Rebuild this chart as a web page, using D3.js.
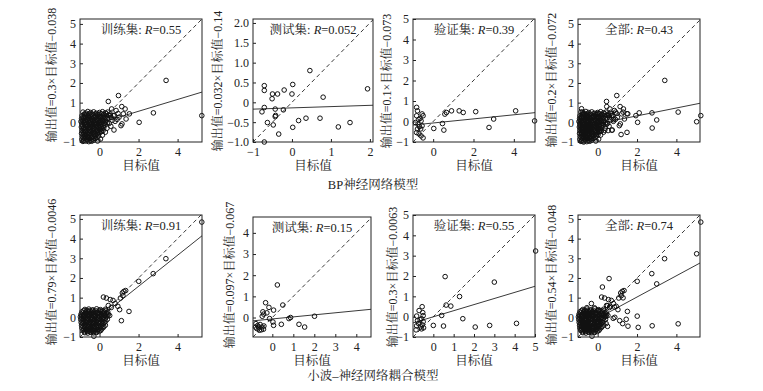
<!DOCTYPE html>
<html><head><meta charset="utf-8">
<script src="https://cdn.jsdelivr.net/npm/d3@7"></script>
<style>
html,body{margin:0;padding:0;background:#fff;}
svg text{font-family:"Liberation Serif","Noto Serif CJK SC","Noto Sans CJK SC",serif;fill:#222;}
</style></head>
<body><svg id="c" width="763" height="391"></svg>
<script>
// ---------------- data ----------------
const subsetNames = ["训练集", "测试集", "验证集", "全部"];
const modelNames = ["BP神经网络模型", "小波–神经网络耦合模型"];

const bpSlope = [0.3, 0.032, 0.1, 0.2];
const bpIntercept = [-0.038, -0.14, -0.073, -0.072];
const bpR = ["0.55", "0.052", "0.39", "0.43"];
const wtSlope = [0.79, 0.097, 0.3, 0.54];
const wtIntercept = [-0.0046, -0.067, -0.0063, -0.048];
const wtR = ["0.91", "0.15", "0.55", "0.74"];

const xTicksA = [0, 2, 4];
const yTicksA = [-1, 0, 1, 2, 3, 4, 5];
const xTicksBpTest = [-1, 0, 1, 2];
const yTicksBpTest = [-1, -0.5, 0, 0.5, 1, 1.5, 2];
const xTicksWtTest = [0, 1, 2, 3, 4];
const yTicksWtTest = [0, 1, 2, 3, 4];
const xTicksWtVal = [0, 1, 2, 3, 4, 5];

// [目标值, 输出值]
const bpTrain = [
 [-0.85,0.52],[-0.7,0.47],[-0.6,0.55],[-0.45,0.5],[-0.3,0.53],[-0.15,0.46],[0.0,0.5],[0.15,0.54],[0.3,0.48],[0.42,0.52],
 [-0.9,0.33],[-0.78,0.38],[-0.62,0.31],[-0.5,0.36],[-0.38,0.4],[-0.22,0.32],[-0.08,0.37],[0.05,0.3],[0.2,0.38],[0.35,0.33],[0.48,0.36],
 [-0.92,0.18],[-0.8,0.23],[-0.66,0.16],[-0.55,0.22],[-0.42,0.19],[-0.3,0.24],[-0.18,0.15],[-0.05,0.21],[0.1,0.17],[0.25,0.23],[0.4,0.18],
 [-0.95,0.04],[-0.83,0.08],[-0.7,0.02],[-0.58,0.07],[-0.46,0.03],[-0.33,0.09],[-0.2,0.01],[-0.1,0.06],[0.05,0.04],[0.18,0.08],[0.32,0.02],
 [-0.9,-0.12],[-0.77,-0.07],[-0.65,-0.11],[-0.52,-0.08],[-0.4,-0.13],[-0.27,-0.09],[-0.14,-0.12],[0.0,-0.07],[0.12,-0.1],[0.28,-0.13],
 [-0.93,-0.24],[-0.8,-0.28],[-0.68,-0.22],[-0.56,-0.27],[-0.43,-0.23],[-0.3,-0.29],[-0.17,-0.24],[-0.03,-0.26],[0.1,-0.22],[0.22,-0.27],
 [-0.9,-0.41],[-0.78,-0.37],[-0.64,-0.43],[-0.5,-0.39],[-0.37,-0.42],[-0.22,-0.38],[-0.08,-0.41],[0.05,-0.37],[0.18,-0.42],
 [-0.92,-0.56],[-0.8,-0.52],[-0.66,-0.58],[-0.53,-0.54],[-0.4,-0.57],[-0.26,-0.53],[-0.12,-0.56],[0.02,-0.52],
 [-0.88,-0.71],[-0.75,-0.68],[-0.62,-0.73],[-0.48,-0.69],[-0.34,-0.72],[-0.2,-0.67],[-0.05,-0.7],
 [-0.9,-0.86],[-0.78,-0.83],[-0.64,-0.87],[-0.5,-0.84],[-0.36,-0.86],[-0.2,-0.82],
 [-0.85,-0.97],[-0.7,-0.95],[-0.55,-0.98],[-0.4,-0.96],
 [-0.78,0.42],[-0.65,0.4],[-0.52,0.44],[-0.38,0.41],[-0.22,0.43],[-0.08,0.4],[0.08,0.44],[0.22,0.41],[0.36,0.43],
 [-0.85,0.27],[-0.72,0.29],[-0.58,0.26],[-0.45,0.28],[-0.3,0.25],[-0.15,0.29],[0.0,0.26],[0.13,0.28],[0.28,0.25],[0.42,0.27],
 [-0.88,0.12],[-0.75,0.1],[-0.62,0.13],[-0.5,0.11],[-0.37,0.14],[-0.25,0.1],[-0.12,0.12],[0.02,0.11],[0.15,0.13],[0.3,0.1],
 [-0.9,-0.03],[-0.77,-0.01],[-0.64,-0.04],[-0.52,-0.02],[-0.4,-0.05],[-0.27,-0.02],[-0.15,-0.04],[0.0,-0.01],[0.12,-0.03],[0.25,-0.05],[0.4,-0.02],
 [-0.86,-0.18],[-0.72,-0.16],[-0.6,-0.19],[-0.47,-0.17],[-0.34,-0.2],[-0.2,-0.16],[-0.07,-0.19],[0.06,-0.17],[0.2,-0.18],
 [-0.86,-0.33],[-0.72,-0.31],[-0.58,-0.34],[-0.45,-0.32],[-0.3,-0.35],[-0.15,-0.31],[0.0,-0.33],[0.12,-0.32],
 [-0.85,-0.48],[-0.72,-0.46],[-0.58,-0.49],[-0.45,-0.47],[-0.32,-0.5],[-0.18,-0.46],[-0.04,-0.48],[0.1,-0.47],
 [-0.83,-0.63],[-0.7,-0.61],[-0.55,-0.64],[-0.42,-0.62],[-0.27,-0.65],[-0.12,-0.61],
 [-0.84,-0.78],[-0.7,-0.76],[-0.57,-0.79],[-0.43,-0.77],[-0.28,-0.8],[-0.12,-0.76],
 [-0.8,-0.92],[-0.63,-0.9],[-0.47,-0.93],[-0.3,-0.91],
 [0.55,0.42],[0.6,0.25],[0.65,0.1],[0.5,-0.05],[0.38,-0.3],[0.3,-0.5],[0.15,-0.65],[0.05,-0.85],[-0.1,-0.95],[0.7,0.35],[0.58,-0.2],
 [3.41,2.13],[5.24,0.34],[2.76,0.48],[2.03,0.0],[0.97,1.36],[0.45,1.06],[1.14,0.8],[1.31,0.68],[1.22,0.43],[1.53,0.43],
 [1.36,0.17],[1.15,-0.08],[1.1,-0.17],[0.74,-0.39],[0.76,0.34],[0.62,0.68],[0.85,0.6],[0.54,0.34],[1.0,0.26],[0.9,0.15],[0.8,0.05],[0.95,0.45]
];
const bpTest = [
 [-0.71,0.42],[-0.71,0.3],[-0.5,0.21],[-0.37,0.21],[-0.51,0.09],[-0.2,0.31],[0.02,0.45],[0.0,0.21],[0.46,0.8],[0.8,0.13],
 [1.94,0.34],[-0.71,-0.13],[-0.77,-0.24],[-0.43,-0.17],[-0.22,-0.19],[-0.43,-0.36],[-0.42,-0.33],[-0.63,-0.51],[-0.48,-0.57],
 [-0.34,-0.8],[-0.71,-1.0],[0.02,-0.63],[0.17,-0.46],[0.36,-0.4],[0.72,-0.4],[1.19,-0.62],[1.49,-0.51]
];
const bpVal = [
 [5.03,0.03],[4.09,0.52],[3.0,0.12],[2.77,-0.29],[2.11,0.48],[1.49,0.44],[1.29,0.52],[0.91,0.52],[0.66,0.44],[0.58,0.36],
 [0.46,-0.1],[0.53,-0.42],[0.03,-0.34],
 [-0.82,0.69],[-0.78,0.52],[-0.82,0.28],[-0.75,-0.13],[-0.78,-0.37],[-0.82,-0.54],[-0.55,0.37],[-0.5,0.28],[-0.6,0.03],
 [-0.55,-0.21],[-0.62,-0.36],[-0.5,-0.8],[-0.7,-0.6],[-0.65,0.15],[-0.88,-0.05],[-0.6,-0.7],[-0.72,0.1],[-0.68,-0.25]
];
const wtTrain = [
 [-0.75,0.4],[-0.55,0.42],[-0.35,0.38],[-0.15,0.43],[0.05,0.39],[0.3,0.41],
 [-0.9,0.28],[-0.72,0.25],[-0.58,0.3],[-0.42,0.26],[-0.28,0.29],[-0.1,0.24],[0.08,0.3],[0.25,0.27],[0.42,0.28],
 [-0.95,0.15],[-0.82,0.12],[-0.66,0.17],[-0.52,0.13],[-0.38,0.16],[-0.22,0.11],[-0.05,0.17],[0.1,0.14],[0.28,0.12],[0.45,0.16],
 [-0.98,0.02],[-0.85,0.05],[-0.7,-0.01],[-0.56,0.04],[-0.42,0.0],[-0.28,0.05],[-0.12,0.01],[0.02,0.03],[0.18,-0.01],[0.35,0.04],
 [-0.96,-0.12],[-0.82,-0.09],[-0.68,-0.14],[-0.54,-0.1],[-0.4,-0.13],[-0.25,-0.09],[-0.1,-0.14],[0.05,-0.11],[0.22,-0.13],[0.4,-0.1],
 [-0.94,-0.26],[-0.8,-0.23],[-0.66,-0.28],[-0.52,-0.24],[-0.38,-0.27],[-0.24,-0.23],[-0.08,-0.28],[0.08,-0.25],[0.25,-0.27],
 [-0.92,-0.4],[-0.78,-0.37],[-0.64,-0.42],[-0.5,-0.38],[-0.36,-0.41],[-0.2,-0.37],[-0.05,-0.42],[0.12,-0.39],[0.3,-0.4],
 [-0.9,-0.54],[-0.75,-0.51],[-0.6,-0.56],[-0.46,-0.52],[-0.3,-0.55],[-0.15,-0.51],[0.02,-0.55],[0.18,-0.53],
 [-0.85,-0.67],[-0.7,-0.64],[-0.55,-0.69],[-0.4,-0.65],[-0.25,-0.68],[-0.1,-0.64],[0.06,-0.67],
 [-0.75,-0.78],[-0.6,-0.8],[-0.45,-0.76],[-0.3,-0.79],[-0.15,-0.77],[-0.29,-0.96],
 [-0.82,0.34],[-0.65,0.35],[-0.5,0.33],[-0.35,0.35],[-0.2,0.33],[-0.02,0.35],[0.16,0.33],[0.33,0.35],
 [-0.88,0.21],[-0.74,0.2],[-0.6,0.22],[-0.45,0.2],[-0.3,0.22],[-0.14,0.2],[0.02,0.22],[0.19,0.2],[0.36,0.21],
 [-0.92,0.08],[-0.78,0.07],[-0.63,0.09],[-0.49,0.07],[-0.35,0.09],[-0.2,0.07],[-0.04,0.09],[0.1,0.07],[0.26,0.09],[0.42,0.07],
 [-0.9,-0.05],[-0.76,-0.06],[-0.62,-0.04],[-0.48,-0.06],[-0.34,-0.04],[-0.19,-0.06],[-0.03,-0.04],[0.12,-0.06],[0.3,-0.05],
 [-0.88,-0.19],[-0.74,-0.2],[-0.6,-0.18],[-0.46,-0.2],[-0.32,-0.18],[-0.17,-0.2],[-0.01,-0.18],[0.15,-0.2],[0.32,-0.19],
 [-0.86,-0.33],[-0.72,-0.34],[-0.58,-0.32],[-0.44,-0.34],[-0.3,-0.32],[-0.15,-0.34],[0.0,-0.32],[0.18,-0.33],
 [-0.84,-0.47],[-0.7,-0.48],[-0.56,-0.46],[-0.42,-0.48],[-0.27,-0.46],[-0.12,-0.48],[0.05,-0.46],[0.22,-0.47],
 [-0.8,-0.61],[-0.66,-0.62],[-0.52,-0.6],[-0.37,-0.62],[-0.22,-0.6],[-0.06,-0.62],[0.1,-0.6],
 [-0.78,-0.73],[-0.62,-0.72],[-0.48,-0.74],[-0.33,-0.72],[-0.18,-0.74],[-0.02,-0.72],
 [5.24,4.84],[3.4,2.98],[2.75,2.22],[2.01,1.83],[1.34,1.36],[1.25,1.32],[1.17,1.24],[1.2,1.1],[1.07,0.98],[1.51,0.3],
 [1.12,-0.17],[0.94,0.56],[0.55,0.9],[0.35,0.98],[0.2,1.03],[0.69,0.86],[1.03,0.39],[0.52,0.09],[0.8,0.7],[0.6,0.5],[0.45,0.6]
];
const wtTest = [
 [0.24,1.54],[-0.32,0.7],[-0.16,0.48],[0.06,0.35],[0.5,0.59],[-0.45,0.27],[-0.41,0.16],[-0.26,0.22],[-0.48,0.06],[-0.13,-0.05],
 [0.03,-0.21],[0.06,-0.37],[0.43,-0.32],[0.79,-0.05],[0.87,0.0],[2.01,0.06],[1.27,-0.32],[1.54,-0.45],
 [-0.78,-0.29],[-0.7,-0.38],[-0.74,-0.52],[-0.62,-0.6],[-0.5,-0.45],[-0.4,-0.4],[-0.66,-0.45],[-0.52,-0.58],[-0.58,-0.33],[-0.42,-0.55],[-0.8,-0.45]
];
const wtVal = [
 [5.03,3.23],[3.0,1.7],[0.58,1.97],[1.29,0.99],[0.63,0.57],[0.86,0.52],[0.41,0.06],[1.45,-0.1],[0.0,-0.43],[0.5,-0.46],
 [2.06,-0.51],[2.77,-0.43],[4.09,-0.33],
 [-0.55,0.49],[-0.52,0.2],[-0.5,0.05],[-0.58,-0.1],[-0.5,-0.25],[-0.55,-0.4],[-0.48,-0.55],[-0.58,-0.6],[-0.82,0.03],
 [-0.78,-0.2],[-0.82,-0.45],[-0.72,-0.35],[-0.65,-0.15],[-0.7,0.3],[-0.62,-0.5],[-0.85,-0.65]
];
const bpAll = bpTrain.concat(bpTest, bpVal);
const wtAll = wtTrain.concat(wtTest, wtVal);

// ---------------- layout ----------------
const svg = d3.select("#c");
const fmtInt = d => (d < 0 ? "−" + Math.abs(d) : String(d));
const fmtOne = d => (d === 0 ? "0" : (d < 0 ? "−" + Math.abs(d).toFixed(1) : d.toFixed(1)));

const panels = [
 {box:[80,19,122,123], xd:[-1,5.25], yd:[-1,5.25], xt:xTicksA, yt:yTicksA, yf:fmtInt, lab:[52,75], data:bpTrain, a:bpSlope[0], b:bpIntercept[0], name:subsetNames[0], R:bpR[0]},
 {box:[253,19,120,123], xd:[-1,2.08], yd:[-1,2.1], xt:xTicksBpTest, yt:yTicksBpTest, yf:fmtOne, lab:[218,81], data:bpTest, a:bpSlope[1], b:bpIntercept[1], name:subsetNames[1], R:bpR[1]},
 {box:[413,19,122,123], xd:[-1,5.05], yd:[-1,5.0], xt:xTicksA, yt:yTicksA, yf:fmtInt, lab:[387,81], data:bpVal, a:bpSlope[2], b:bpIntercept[2], name:subsetNames[2], R:bpR[2]},
 {box:[578,19,122,123], xd:[-1,5.2], yd:[-1,5.25], xt:xTicksA, yt:yTicksA, yf:fmtInt, lab:[552,80], data:bpAll, a:bpSlope[3], b:bpIntercept[3], name:subsetNames[3], R:bpR[3]},
 {box:[80,215,122,122], xd:[-1,5.25], yd:[-1,5.2], xt:xTicksA, yt:yTicksA, yf:fmtInt, lab:[52,272], data:wtTrain, a:wtSlope[0], b:wtIntercept[0], name:subsetNames[0], R:wtR[0]},
 {box:[253,217,118,120], xd:[-0.92,4.7], yd:[-0.92,4.75], xt:xTicksWtTest, yt:yTicksWtTest, yf:fmtInt, lab:[230,275], data:wtTest, a:wtSlope[1], b:wtIntercept[1], name:subsetNames[1], R:wtR[1]},
 {box:[413,215,122,122], xd:[-1,5], yd:[-1,5], xt:xTicksWtVal, yt:yTicksA, yf:fmtInt, lab:[393,277], data:wtVal, a:wtSlope[2], b:wtIntercept[2], name:subsetNames[2], R:wtR[2]},
 {box:[578,215,122,122], xd:[-1,5.2], yd:[-1,5.2], xt:xTicksA, yt:yTicksA, yf:fmtInt, lab:[552,275], data:wtAll, a:wtSlope[3], b:wtIntercept[3], name:subsetNames[3], R:wtR[3]}
];

function numStr(v){ return String(Math.abs(v)); }

panels.forEach((p, i) => {
  const [bx, by, bw, bh] = p.box;
  const x = d3.scaleLinear().domain(p.xd).range([bx, bx + bw]);
  const y = d3.scaleLinear().domain(p.yd).range([by + bh, by]);
  const g = svg.append("g");
  const cid = "clip" + i;
  svg.append("clipPath").attr("id", cid).append("rect").attr("x", bx).attr("y", by).attr("width", bw).attr("height", bh);

  const ax = g.append("g").attr("transform", `translate(0,${by + bh})`)
    .call(d3.axisBottom(x).tickValues(p.xt).tickFormat(fmtInt).tickSizeInner(-3).tickSizeOuter(0).tickPadding(5));
  const ay = g.append("g").attr("transform", `translate(${bx},0)`)
    .call(d3.axisLeft(y).tickValues(p.yt).tickFormat(p.yf).tickSizeInner(-3).tickSizeOuter(0).tickPadding(4));
  [ax, ay].forEach(a => {
    a.select(".domain").remove();
    a.selectAll("line").attr("stroke", "#222");
    a.selectAll("text").style("font-size", "12px").style("font-family", "'Liberation Serif',serif").attr("fill", "#222");
  });

  const lo = Math.min(p.xd[0], p.yd[0]), hi = Math.max(p.xd[1], p.yd[1]);
  g.append("line").attr("clip-path", `url(#${cid})`)
    .attr("x1", x(lo)).attr("y1", y(lo)).attr("x2", x(hi)).attr("y2", y(hi))
    .attr("stroke", "#222").attr("stroke-width", 0.9).attr("stroke-dasharray", "4,3");
  g.append("line").attr("clip-path", `url(#${cid})`)
    .attr("x1", x(p.xd[0])).attr("y1", y(p.a * p.xd[0] + p.b))
    .attr("x2", x(p.xd[1])).attr("y2", y(p.a * p.xd[1] + p.b))
    .attr("stroke", "#222").attr("stroke-width", 0.9);

  g.append("g").selectAll("circle").data(p.data).join("circle")
    .attr("cx", d => x(d[0])).attr("cy", d => y(d[1])).attr("r", 2.3)
    .attr("fill", "none").attr("stroke", "#111").attr("stroke-width", 1);

  g.append("rect").attr("x", bx).attr("y", by).attr("width", bw).attr("height", bh)
    .attr("fill", "none").attr("stroke", "#222").attr("stroke-width", 1);

  const t = g.append("text").attr("x", bx + bw / 2).attr("y", by + 15)
    .attr("text-anchor", "middle").style("font-size", "12.5px");
  t.append("tspan").text(p.name + ": ");
  t.append("tspan").attr("font-style", "italic").text("R");
  t.append("tspan").text("=" + p.R);

  g.append("text").attr("x", bx + bw / 2).attr("y", by + bh + 28)
    .attr("text-anchor", "middle").style("font-size", "12.5px").text("目标值");
  const lbl = "输出值=" + numStr(p.a) + "×目标值" + (p.b < 0 ? "−" : "+") + numStr(p.b);
  g.append("text").attr("transform", `translate(${p.lab[0]},${p.lab[1]}) rotate(-90)`)
    .attr("text-anchor", "middle").attr("dy", "0.35em").style("font-size", "12px").text(lbl);
});

svg.append("text").attr("x", 373).attr("y", 189).attr("text-anchor", "middle").style("font-size", "12.5px").text(modelNames[0]);
svg.append("text").attr("x", 373).attr("y", 380).attr("text-anchor", "middle").style("font-size", "12.5px").text(modelNames[1]);
</script></body></html>
